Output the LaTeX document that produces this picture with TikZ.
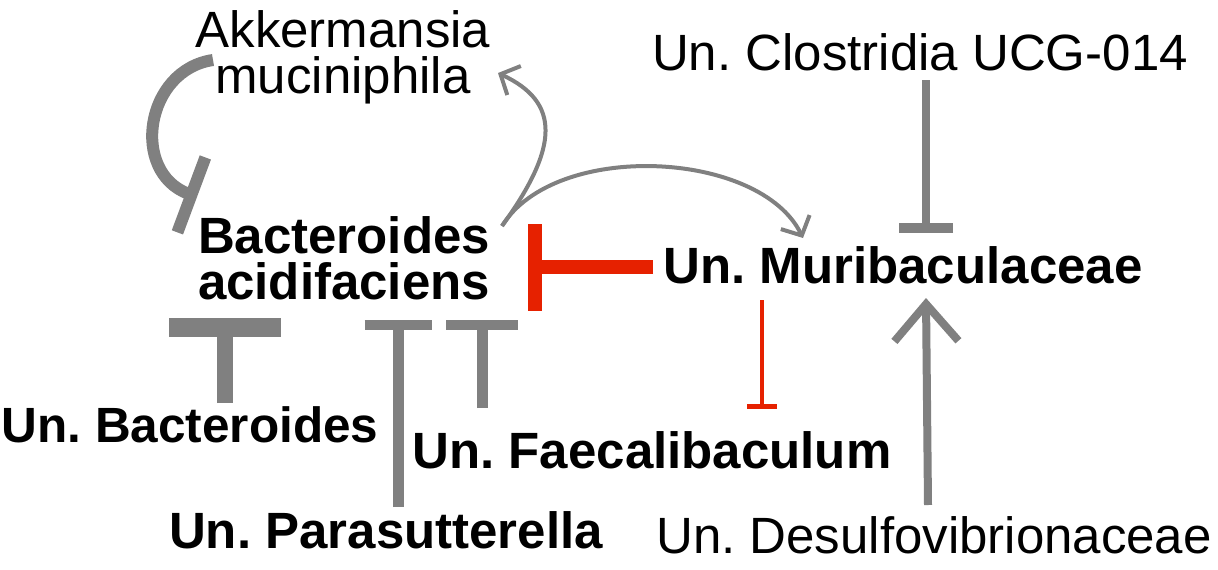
\documentclass[tikz,border=0pt]{standalone}
\usepackage{fontspec}
\setmainfont{Liberation Sans}
\usetikzlibrary{arrows.meta}
\definecolor{lgrey}{RGB}{128,128,128}
\definecolor{ired}{RGB}{230,33,0}
\frenchspacing
\begin{document}
\begin{tikzpicture}[x=1pt,y=-1pt,
  lbl/.style={inner sep=0pt,font=\fontsize{51}{46}\selectfont,align=center},
  blbl/.style={lbl,font=\fontsize{51}{46}\selectfont\bfseries},
  act/.style={draw=lgrey,line width=4pt},
  inhg/.style={draw=lgrey},
  inhr/.style={draw=ired}]
\useasboundingbox (0,0) rectangle (1218,570);
% nodes
\node[lbl] (akk) at (343,57) {Akkermansia\\muciniphila};
\node[blbl] (bac) at (344,258) {Bacteroides\\acidifaciens};
\node[lbl,anchor=base] (clos) at (920,70) {Un. Clostridia UCG-014};
\node[blbl,anchor=base] (mur) at (903,283) {Un. Muribaculaceae};
\node[blbl,anchor=base,font=\fontsize{49.5}{46}\selectfont\bfseries] (ubac) at (190,442) {Un. Bacteroides};
\node[blbl,anchor=base] (fae) at (652,468) {Un. Faecalibaculum};
\node[blbl,anchor=base] (para) at (386,548) {Un. Parasutterella};
\node[lbl,anchor=base] (des) at (934,553) {Un. Desulfovibrionaceae};
% endpoints
\coordinate (akkS) at (213,60);
\coordinate (bacA) at (197,197);
\coordinate (bacS) at (502,226);
\coordinate (akkE) at (498,73);
\coordinate (murE) at (803,238);
\coordinate (murW) at (653,267);
\coordinate (bacE) at (528,267);
\coordinate (ubacN) at (225,403);
\coordinate (bacU) at (225,318);
\coordinate (paraN) at (398,507);
\coordinate (bacP) at (398,320);
\coordinate (faeN) at (482,408);
\coordinate (bacF) at (482,320);
\coordinate (murS) at (762,300);
\coordinate (faeT) at (762,409);
\coordinate (closS) at (926,80);
\coordinate (murN) at (926,233);
\coordinate (desN) at (928,505);
\coordinate (murB) at (926,298);
% connectors
\draw[inhg,line width=12pt,-{Bar[width=80pt,line width=12pt]}]
  (akkS) .. controls (145,70) and (130,172) .. (bacA);
\draw[act,-{Straight Barb[length=15pt,width=32pt]}]
  (bacS) .. controls (560,146) and (560,102) .. (akkE);
\draw[act,-{Straight Barb[length=15pt,width=32pt]}]
  (bacS) .. controls (555,140) and (760,150) .. (murE);
\draw[inhr,line width=14pt,-{Bar[width=87pt,line width=14pt]}] (murW) -- (bacE);
\draw[inhg,line width=16pt,-{Bar[width=112pt,line width=19pt]}] (ubacN) -- (bacU);
\draw[inhg,line width=11pt,-{Bar[width=67pt,line width=10pt]}] (paraN) -- (bacP);
\draw[inhg,line width=11pt,-{Bar[width=72pt,line width=10pt]}] (faeN) -- (bacF);
\draw[inhr,line width=4pt,-{Bar[width=30pt,line width=5pt]}] (murS) -- (faeT);
\draw[inhg,line width=8pt,-{Bar[width=54pt,line width=10pt]}] (closS) -- (murN);
\draw[inhg,line width=8pt,-{Straight Barb[length=37pt,width=64pt]}] (desN) -- (murB);
\end{tikzpicture}
\end{document}
